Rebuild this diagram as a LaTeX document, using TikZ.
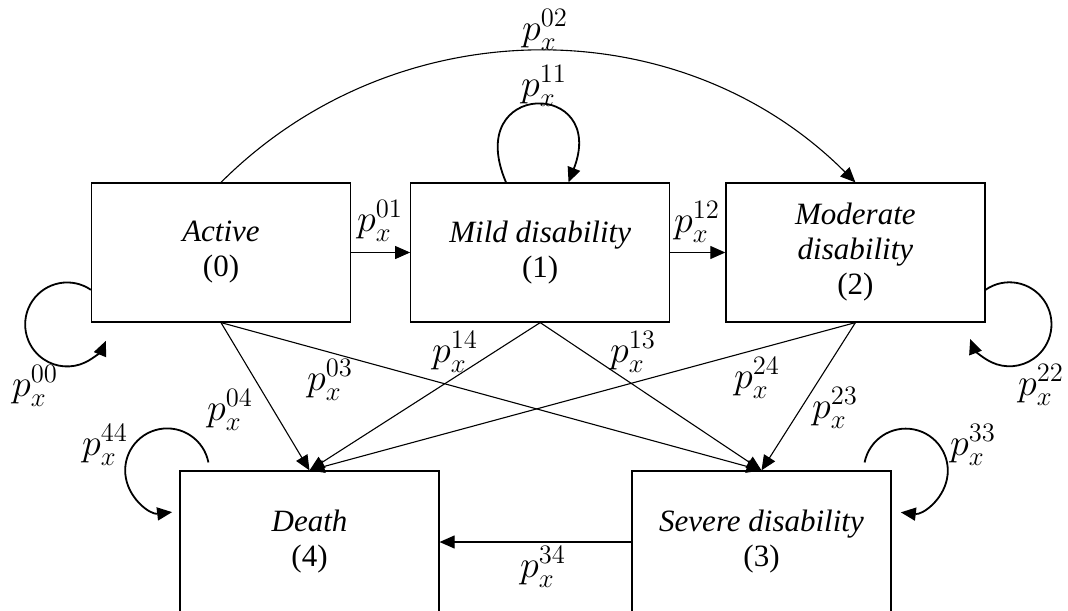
\RequirePackage{fix-cm}
\documentclass[tikz,border=0pt]{standalone}
\usepackage{amsmath,amssymb}
\usepackage{fontspec}
\setmainfont{Liberation Serif}
\usetikzlibrary{arrows.meta,positioning}

\begin{document}
\begin{tikzpicture}[x=0.5pt,y=-0.5pt,>={Triangle[length=7.5pt,width=6.5pt]},
  state/.style={draw,line width=0.6pt,minimum width=129.5pt,minimum height=69.5pt,inner sep=0pt,align=center,font=\fontsize{15.5}{17.5}\selectfont\itshape},
  prob/.style={font=\fontsize{19}{22}\selectfont},
  link/.style={->,line width=0.55pt},
  selfloop/.style={->,line width=0.9pt}]
\useasboundingbox (0,0) rectangle (1068,610);
% states
\node[state] (s0) at (221,252.5) {Active\\\upshape(0)};
\node[state,right=29.5pt of s0] (s1) {Mild disability\\\upshape(1)};
\node[state,right=27.5pt of s1] (s2) {Moderate\\disability\\\upshape(2)};
\node[state,minimum height=71pt] (s4) at (309.5,542) {Death\\\upshape(4)};
\node[state,minimum height=71pt] (s3) at (761.5,542) {Severe disability\\\upshape(3)};
% transitions
\draw[link] (s0) -- (s1);
\draw[link] (s1) -- (s2);
\draw[link] (s0.north) .. controls +(175,-175) and +(-175,-175) .. (s2.north);
\draw[link] (s0.south) -- (s4.north);
\draw[link] (s0.south) -- (s3.north);
\draw[link] (s1.south) -- (s4.north);
\draw[link] (s1.south) -- (s3.north);
\draw[link] (s2.south) -- (s4.north);
\draw[link] (s2.south) -- (s3.north);
\draw[link] (s3) -- (s4);
% staying in the same state
\draw[selfloop] (s1.116) .. controls +(-44,-103) and +(40,-103) .. (s1.68);
\draw[selfloop] (s0.196) arc[start angle=-55.6,end angle=-337,radius=42];
\draw[selfloop] (s2.344.7) arc[start angle=235.2,end angle=519.4,radius=42];
\draw[selfloop] ([shift={(29,-8)}]s4.north west) arc[start angle=-11,end angle=-276.8,radius=42];
\draw[selfloop] ([shift={(-27,-8)}]s3.north east) arc[start angle=191.3,end angle=456.8,radius=42];
% labels
\node[prob] (l01) at (380,221) {$p_x^{01}$};
\node[prob] (l12) at (697,222) {$p_x^{12}$};
\node[prob] (l02) at (545,30) {$p_x^{02}$};
\node[prob] (l11) at (544,86) {$p_x^{11}$};
\node[prob] (l00) at (35,386) {$p_x^{00}$};
\node[prob] (l22) at (1041,385) {$p_x^{22}$};
\node[prob] (l44) at (105,445) {$p_x^{44}$};
\node[prob] (l33) at (973,445) {$p_x^{33}$};
\node[prob] (l04) at (230,410) {$p_x^{04}$};
\node[prob] (l03) at (330,380) {$p_x^{03}$};
\node[prob] (l14) at (455,352) {$p_x^{14}$};
\node[prob] (l13) at (633,352) {$p_x^{13}$};
\node[prob] (l24) at (757,378) {$p_x^{24}$};
\node[prob] (l23) at (835,408) {$p_x^{23}$};
\node[prob] (l34) at (543,567) {$p_x^{34}$};
\end{tikzpicture}
\end{document}
